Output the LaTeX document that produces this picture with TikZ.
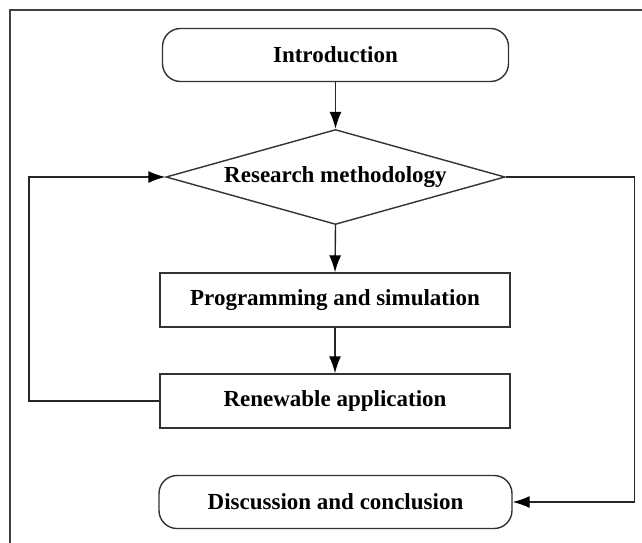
\documentclass[tikz,border=0pt]{standalone}
\usepackage{fontspec}
\setmainfont{Liberation Serif}
\usetikzlibrary{shapes, arrows.meta, positioning}

\tikzset{
  boxtext/.style={font=\bfseries\fontsize{23}{26}\selectfont, text=black},
  terminal/.style={boxtext, draw=black!80, line width=1.4pt, rounded corners=18pt,
    minimum width=346pt, minimum height=53pt, inner sep=0pt},
  process/.style={boxtext, draw=black!80, line width=1.4pt,
    minimum width=350pt, minimum height=54pt, inner sep=0pt},
  decision/.style={boxtext, draw=black!80, line width=1.4pt, diamond, aspect=3.57,
    minimum width=339pt, minimum height=95pt, inner sep=0pt},
  flow/.style={draw=black!85, line width=1.4pt, -{Latex[length=17pt,width=12pt,color=black]}},
}

\begin{document}
\begin{tikzpicture}[x=1pt, y=-1pt]
		\useasboundingbox[fill=white] (0,0) rectangle (642,543);
		% Frame
		\draw[black!75, line width=1.5pt] (642,10) -- (10,10) -- (10,543);

		% Boxes
		\node[terminal] (intro) at (335.5,55) {Introduction};
		\node[decision] (method) at (335.5,177) {Research methodology};
		\node[process] (prog) at (335,300) {Programming and simulation};
		\node[process] (renew) at (335,401) {Renewable application};
		\node[terminal, minimum width=353pt] (disc) at (335.5,502) {Discussion and conclusion};

		% Arrows
		\draw[flow] (intro.south) -- (method.north);
		\draw[flow] (method.south) -- (prog.north);
		\draw[flow] (prog.south) -- (renew.north);
		\draw[flow] (renew.west) -- ++(-130.5,0) |- (method.west);
		\draw[flow] (method.east) -- ++(128.5,0) |- (disc.east);
	\end{tikzpicture}
\end{document}
